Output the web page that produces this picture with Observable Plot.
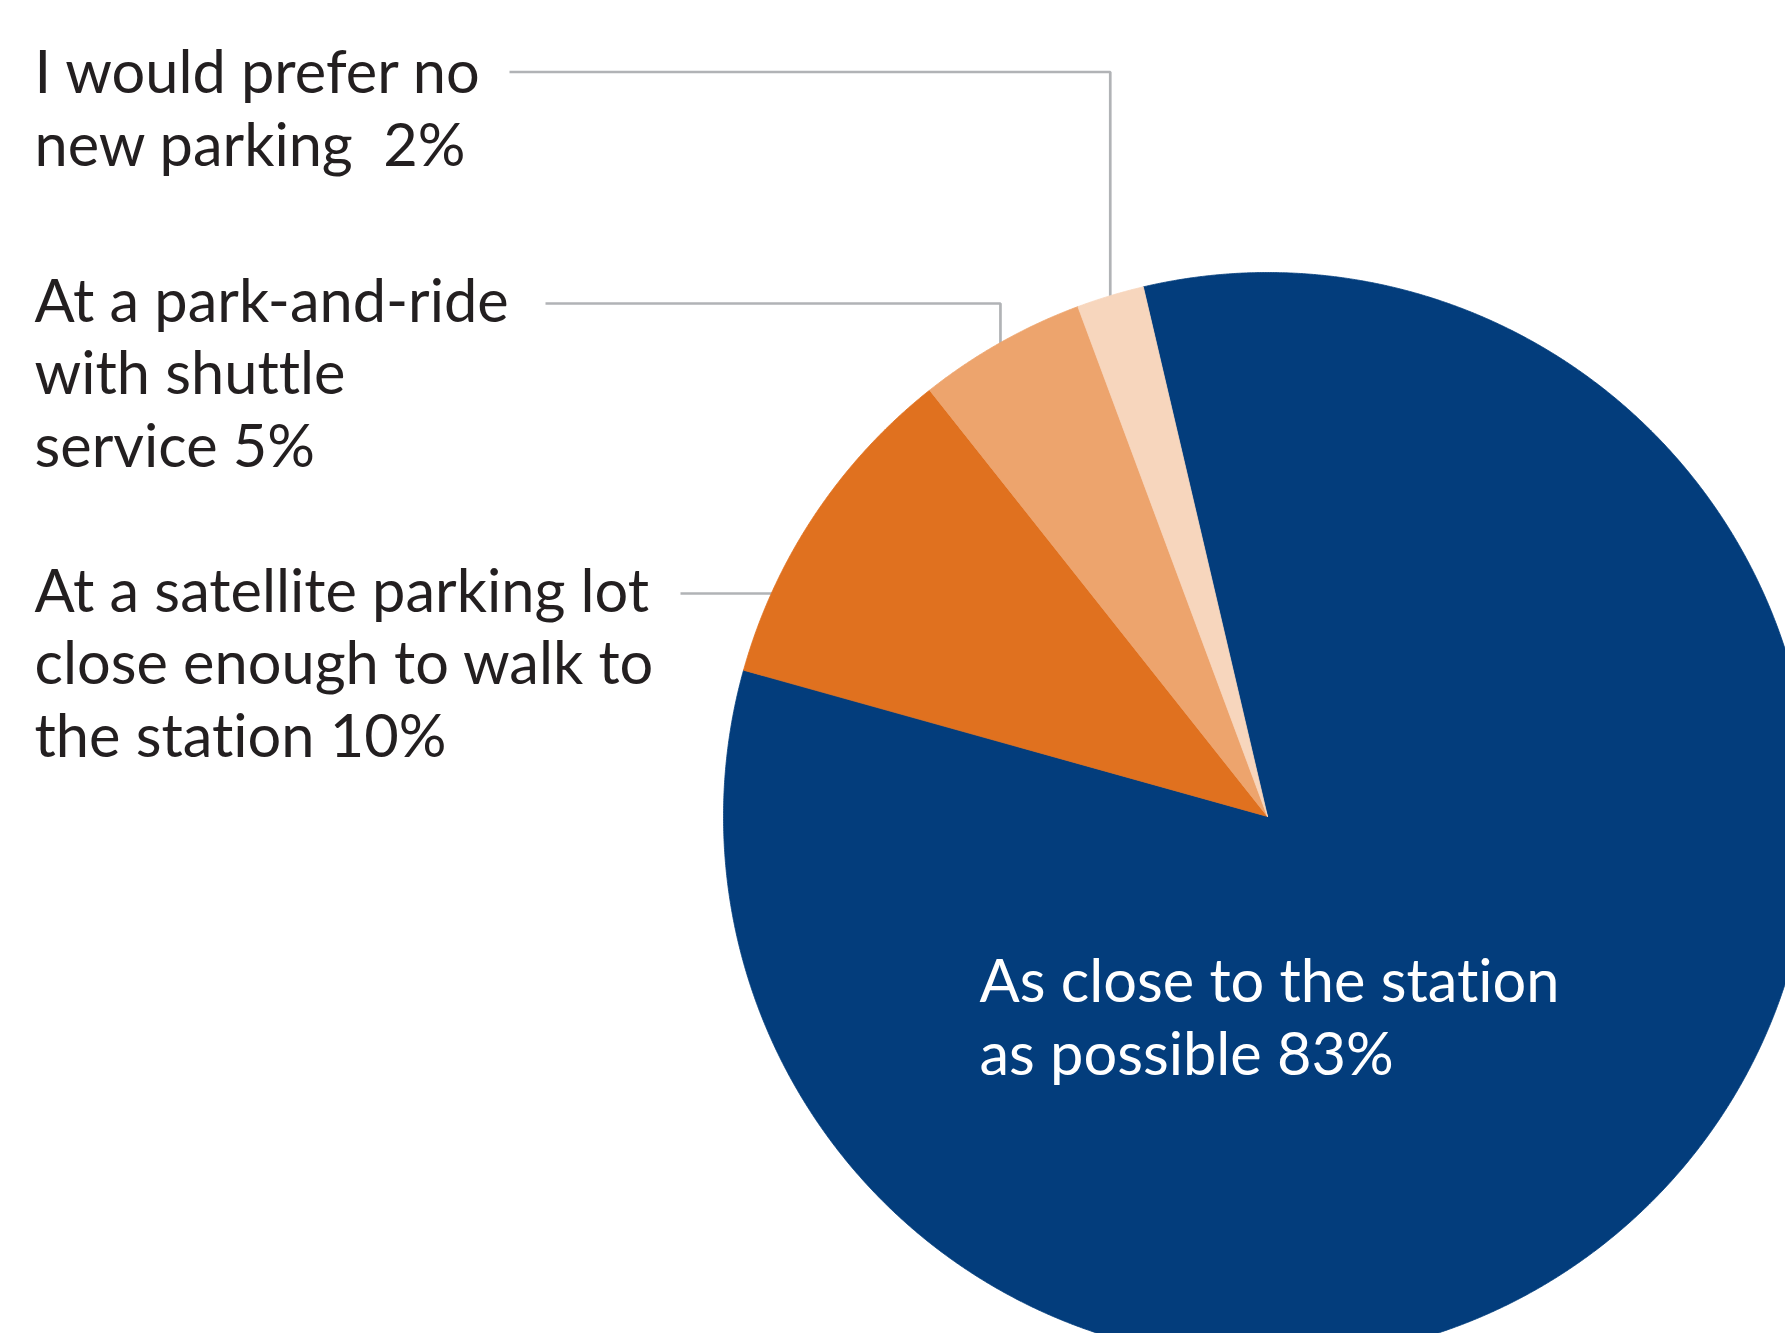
<!DOCTYPE html>
<html>
<head>
<meta charset="utf-8">
<script src="https://cdn.jsdelivr.net/npm/d3@7"></script>
<script src="https://cdn.jsdelivr.net/npm/@observablehq/plot@0.6"></script>
<style>
  html, body { margin: 0; padding: 0; background: #ffffff; }
  #chart svg { display: block; }
  #chart text { font-variant-ligatures: none; font-feature-settings: "liga" 0, "clig" 0; }
</style>
</head>
<body>
<div id="chart"></div>
<script>
// ---- data ----
const categories = [
  "As close to the station as possible",
  "At a satellite parking lot close enough to walk to the station",
  "At a park-and-ride with shuttle service",
  "I would prefer no new parking"
];
const values = [83, 10, 5, 2];
const labels = [
  "As close to the station\nas possible 83%",
  "At a satellite parking lot\nclose enough to walk to\nthe station 10%",
  "At a park-and-ride\nwith shuttle\nservice 5%",
  "I would prefer no\nnew parking  2%"
];
const colors = ["#033d7c", "#e0711f", "#eda46d", "#f7d6bd"];

// ---- layout (pixels) ----
const W = 1785, H = 1333;
const CX = 1267, CY = 816, R = 544;
const START = -13.2 * Math.PI / 180;
const labelX = [979, 34, 34, 34];
const labelBaseline = [1074, 756, 466, 165];
const leaderStart = [null, [680, 593], [545, 303], [509, 71.5]];
const FONT = "Lato";
const FONT_SIZE = 59.5;
const LINE_HEIGHT = 72.5 / FONT_SIZE;

const toX = px => (px - CX) / R;
const toY = py => (CY - py) / R;

// ---- pie geometry (unit circle, data space) ----
const arcs = d3.pie().sort(null).startAngle(START).endAngle(START + 2 * Math.PI)(values);

const slicePts = arcs.flatMap((a, i) => {
  const n = Math.max(2, Math.ceil((a.endAngle - a.startAngle) / 0.003));
  const pts = [{cat: categories[i], x: 0, y: 0}];
  for (let k = 0; k <= n; ++k) {
    const t = a.startAngle + (a.endAngle - a.startAngle) * k / n;
    pts.push({cat: categories[i], x: Math.sin(t), y: Math.cos(t)});
  }
  pts.push({cat: categories[i], x: 0, y: 0});
  return pts;
});

// leader lines
const leaderPts = [];
leaderStart.forEach((s, i) => {
  if (!s) return;
  const y0 = toY(s[1]);
  const x0 = toX(s[0]);
  if (i === 1) {
    leaderPts.push({cat: categories[i], x: x0, y: y0});
    leaderPts.push({cat: categories[i], x: -Math.sqrt(1 - y0 * y0) + 0.004, y: y0});
  } else {
    const mid = (arcs[i].startAngle + arcs[i].endAngle) / 2;
    leaderPts.push({cat: categories[i], x: x0, y: y0});
    leaderPts.push({cat: categories[i], x: Math.sin(mid), y: y0});
    leaderPts.push({cat: categories[i], x: Math.sin(mid), y: Math.cos(mid) - 0.004});
  }
});

const labelData = labels.map((t, i) => ({text: t, x: toX(labelX[i]), y: toY(labelBaseline[i]), i}));

const chart = Plot.plot({
  width: W,
  height: H,
  margin: 0,
  style: {background: "#ffffff"},
  x: {type: "linear", domain: [toX(0), toX(W)], range: [0, W], axis: null},
  y: {type: "linear", domain: [toY(H), toY(0)], range: [H, 0], axis: null},
  color: {type: "ordinal", domain: categories, range: colors},
  marks: [
    Plot.line(leaderPts, {x: "x", y: "y", z: "cat", stroke: "#b1b3b6", strokeWidth: 2.7, strokeLinejoin: "miter", strokeLinecap: "butt"}),
    Plot.line(slicePts, {x: "x", y: "y", z: "cat", fill: "cat", stroke: "cat", strokeWidth: 0.8, curve: "linear", clip: true}),
    Plot.text(labelData.filter(d => d.i > 0), {
      x: "x", y: "y", text: "text",
      textAnchor: "start", lineAnchor: "bottom", lineHeight: LINE_HEIGHT,
      fontFamily: FONT, fontSize: FONT_SIZE, fill: "#231f20"
    }),
    Plot.text(labelData.filter(d => d.i === 0), {
      x: "x", y: "y", text: "text",
      textAnchor: "start", lineAnchor: "bottom", lineHeight: LINE_HEIGHT,
      fontFamily: FONT, fontSize: FONT_SIZE, fill: "#ffffff"
    })
  ]
});
document.getElementById("chart").appendChild(chart);
</script>
</body>
</html>
